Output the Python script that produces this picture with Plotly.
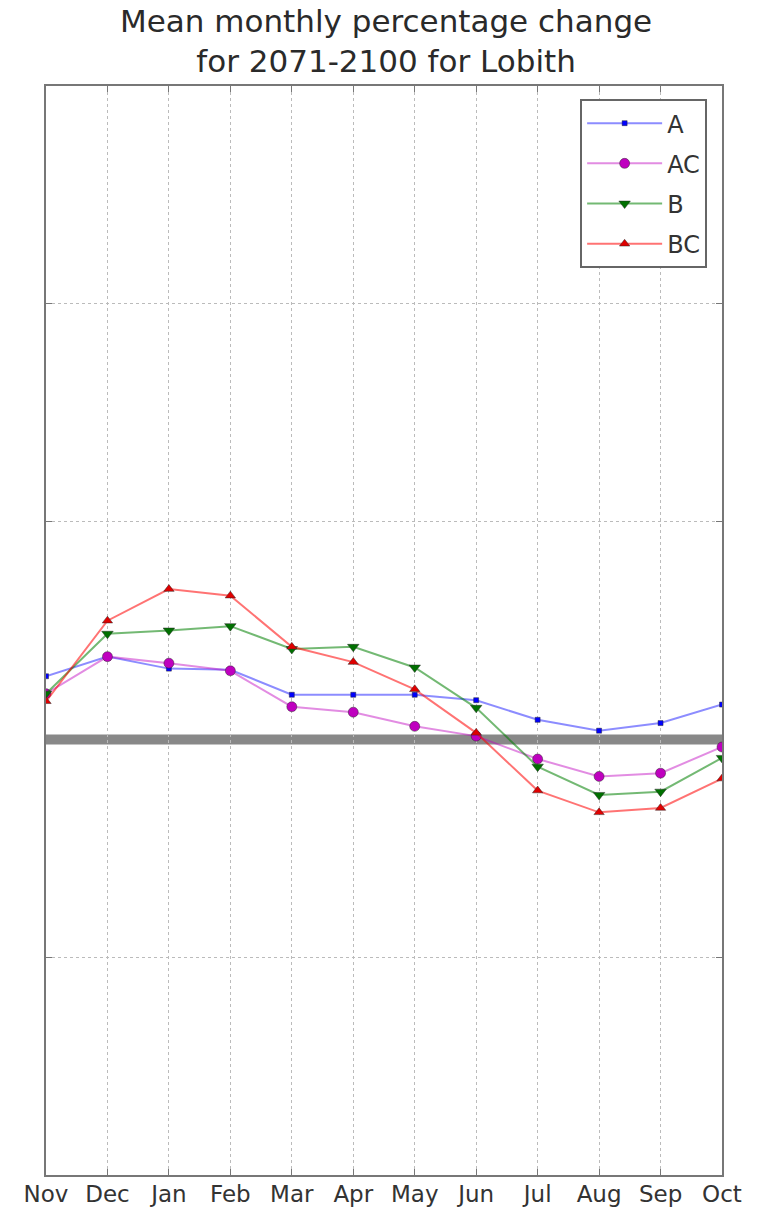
import plotly.graph_objects as go

months = ["Nov", "Dec", "Jan", "Feb", "Mar", "Apr", "May", "Jun", "Jul", "Aug", "Sep", "Oct"]

series_a = [5.8, 7.6, 6.5, 6.4, 4.1, 4.1, 4.1, 3.6, 1.8, 0.8, 1.5, 3.2]
series_ac = [4.2, 7.6, 7.0, 6.3, 3.0, 2.5, 1.2, 0.3, -1.8, -3.4, -3.1, -0.7]
series_b = [4.2, 9.7, 10.0, 10.4, 8.3, 8.5, 6.6, 2.9, -2.5, -5.1, -4.8, -1.7]
series_bc = [3.5, 10.9, 13.8, 13.2, 8.5, 7.1, 4.6, 0.6, -4.7, -6.7, -6.3, -3.6]

# grid positions (the zero level is drawn as a thick band instead)
y_grid = [-40, -20, 20, 40, 60]

styles = [
    ("A", series_a, "rgba(0,0,255,0.45)", "#0000ff", "square", 5),
    ("AC", series_ac, "rgba(191,0,191,0.45)", "#bf00bf", "circle", 10),
    ("B", series_b, "rgba(0,128,0,0.55)", "#007000", "triangle-down", 10),
    ("BC", series_bc, "rgba(255,0,0,0.55)", "#e00000", "triangle-up", 9),
]

fig = go.Figure()

# thick zero reference line under the series
fig.add_hline(y=0, line=dict(color="#888888", width=10), layer="below")

for name, vals, lcol, mcol, sym, size in styles:
    fig.add_trace(go.Scatter(
        x=months, y=vals, name=name, legendgroup=name, mode="lines+markers",
        line=dict(color=lcol, width=2),
        marker=dict(color=mcol, symbol=sym, size=size,
                    line=dict(color="rgba(40,40,40,0.6)", width=0.8)),
    ))

axis_common = dict(
    showline=True, mirror="ticks", linecolor="#777777", linewidth=2,
    showgrid=True, gridcolor="#bbbbbb", griddash="dot", gridwidth=1,
    ticks="inside", ticklen=6, tickcolor="#777777", zeroline=False,
    automargin=False,
)

fig.update_xaxes(
    **axis_common, type="category", range=[0, 11], ticklabelstandoff=-3,
    tickfont=dict(family="DejaVu Sans", size=23, color="#333333"),
)
fig.update_yaxes(
    **axis_common, range=[-40, 60], tickvals=y_grid, showticklabels=False,
)

fig.update_layout(
    width=757, height=1209,
    margin=dict(l=46, r=35, t=86, b=34),
    paper_bgcolor="white", plot_bgcolor="white",
    title=dict(
        text="Mean monthly percentage change<br>for 2071-2100 for Lobith",
        x=0.51, xanchor="center", yref="container", y=0.9735, yanchor="middle",
        font=dict(family="DejaVu Sans", size=31, color="#2a2a2a"),
    ),
    legend=dict(
        x=0.978, xanchor="right", y=0.988, yanchor="top",
        bordercolor="#666666", borderwidth=2, bgcolor="white",
        font=dict(family="DejaVu Sans", size=24, color="#333333"),
        itemwidth=75, tracegroupgap=6,
    ),
)

fig.write_html("out.html")
